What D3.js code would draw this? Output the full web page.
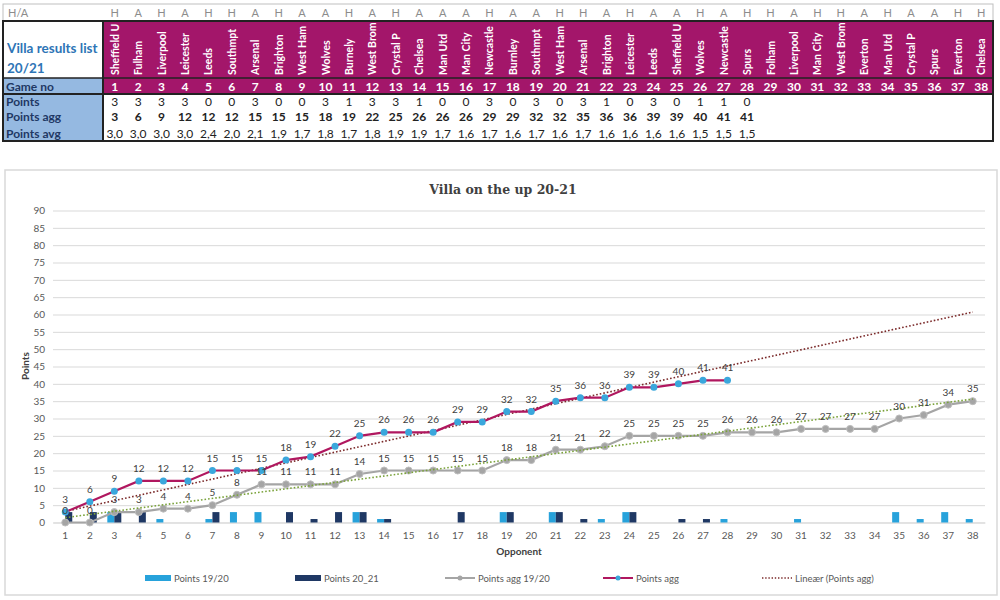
<!DOCTYPE html>
<html>
<head>
<meta charset="utf-8">
<script src="https://cdnjs.cloudflare.com/ajax/libs/d3/7.8.5/d3.min.js"></script>
<style>
  body { margin: 0; background: #fff; }
  svg { font-family: Lato, "Open Sans", sans-serif; }
</style>
</head>
<body>
<svg id="chart" width="1000" height="600"></svg>
<script>
// data
var games = d3.range(1, 39);
var homeAway = ['H','A','H','A','H','H','A','H','A','A','H','A','H','A','A','A','H','A','A','H','H','A','H','A',
                'A','H','A','H','H','A','H','H','A','H','A','A','H','H'];
var opponents = ['Sheffield U','Fulham','Liverpool','Leicester','Leeds','Southmpt','Arsenal','Brighton','West Ham','Wolves',
                 'Burnely','West Brom','Crystal P','Chelsea','Man Utd','Man City','Newcastle','Burnley','Southmpt','West Ham',
                 'Arsenal','Brighton','Leicester','Leeds','Sheffield U','Wolves','Newcastle','Spurs','Folham','Liverpool',
                 'Man City','West Brom','Everton','Man Utd','Crystal P','Spurs','Everton','Chelsea'];
var points2021 = [3,3,3,3,0,0,3,0,0,3,1,3,3,1,0,0,3,0,3,0,3,1,0,3,0,1,1,0];
var pointsAgg = [3,6,9,12,12,12,15,15,15,18,19,22,25,26,26,26,29,29,32,32,35,36,36,39,39,40,41,41];
var pointsAvg = ['3,0','3,0','3,0','3,0','2,4','2,0','2,1','1,9','1,7','1,8','1,7','1,8','1,9','1,9','1,7','1,6',
                 '1,7','1,6','1,7','1,6','1,7','1,6','1,6','1,6','1,6','1,5','1,5','1,5'];
var points1920 = [0,0,3,0,1,0,1,3,3,0,0,0,3,1,0,0,0,0,3,0,3,0,1,3,0,0,0,1,0,0,1,0,0,0,3,1,3,1];
var pointsAgg1920 = [0,0,3,3,4,4,5,8,11,11,11,11,14,15,15,15,15,15,18,18,21,21,22,25,25,25,25,26,26,26,27,27,27,27,30,31,34,35];
// trend line ends (game 1 and game 38)
var trendAgg = [[1, 3.2], [38, 60.7]];
var trendAgg1920 = [[1, 1.4], [38, 35.6]];
var yTicks = d3.range(0, 91, 5);

var svg = d3.select('#chart');

// ---------- table ----------
var magenta = '#a3166a', labelBlue = '#95b9e1', navy = '#1f3864';
var col = d3.scaleBand().domain(games).range([103, 993]);
var rows = {ha: [4, 21], head: [21, 78], game: [78, 94], pts: [94, 109], agg: [109, 124], avg: [124, 141]};

var tbl = svg.append('g');
tbl.append('rect').attr('x', 3).attr('y', 4).attr('width', 990).attr('height', 17)
  .attr('fill', '#fff').attr('stroke', '#bfbfbf');
tbl.append('rect').attr('x', 103).attr('y', rows.head[0]).attr('width', 890).attr('height', rows.game[1] - rows.head[0])
  .attr('fill', magenta);
tbl.append('rect').attr('x', 3).attr('y', rows.game[0]).attr('width', 100).attr('height', rows.game[1] - rows.game[0])
  .attr('fill', labelBlue);
tbl.append('rect').attr('x', 3).attr('y', rows.pts[0]).attr('width', 100).attr('height', rows.avg[1] - rows.pts[0])
  .attr('fill', labelBlue);

// borders
tbl.append('rect').attr('x', 3).attr('y', rows.head[0]).attr('width', 990).attr('height', rows.avg[1] - rows.head[0])
  .attr('fill', 'none').attr('stroke', '#222').attr('stroke-width', 2);
tbl.append('line').attr('x1', 3).attr('x2', 993).attr('y1', rows.game[0]).attr('y2', rows.game[0])
  .attr('stroke', '#222').attr('stroke-width', 1.5);
tbl.append('line').attr('x1', 3).attr('x2', 993).attr('y1', rows.game[1]).attr('y2', rows.game[1])
  .attr('stroke', '#222').attr('stroke-width', 2);
tbl.append('line').attr('x1', 103).attr('x2', 103).attr('y1', rows.head[0]).attr('y2', rows.avg[1])
  .attr('stroke', '#222').attr('stroke-width', 2);

tbl.append('text').attr('x', 8).attr('y', 17).attr('font-size', 11).attr('fill', '#8c8c8c').text('H/A');
tbl.selectAll('.ha').data(homeAway).join('text')
  .attr('x', function(d, i) { return col(games[i]) + col.bandwidth() / 2; })
  .attr('y', 17).attr('text-anchor', 'middle').attr('font-size', 11).attr('fill', '#8c8c8c')
  .text(function(d) { return d; });

tbl.append('text').attr('x', 7).attr('y', 53).attr('font-size', 13.5).attr('font-weight', 'bold')
  .attr('fill', '#2e75b6').text('Villa results list');
tbl.append('text').attr('x', 7).attr('y', 73).attr('font-size', 13.5).attr('font-weight', 'bold')
  .attr('fill', '#2e75b6').text('20/21');

tbl.selectAll('.opp').data(opponents).join('text')
  .attr('transform', function(d, i) {
    return 'translate(' + (col(games[i]) + col.bandwidth() / 2 + 4) + ',75) rotate(-90)';
  })
  .attr('font-size', 10.5).attr('font-weight', 'bold').attr('fill', '#fff')
  .text(function(d) { return d; });

var labels = [['Game no', rows.game], ['Points', rows.pts], ['Points agg', rows.agg], ['Points avg', rows.avg]];
labels.forEach(function(l) {
  tbl.append('text').attr('x', 6).attr('y', l[1][1] - 3.5).attr('font-size', 12).attr('font-weight', 'bold')
    .attr('fill', navy).text(l[0]);
});

tbl.selectAll('.gno').data(games).join('text')
  .attr('x', function(d) { return col(d) + col.bandwidth() / 2; })
  .attr('y', rows.game[1] - 3.5).attr('text-anchor', 'middle').attr('font-size', 12).attr('font-weight', 'bold')
  .attr('fill', '#fff').text(function(d) { return d; });

function tableRow(values, r, bold) {
  tbl.append('g').selectAll('text').data(values).join('text')
    .attr('x', function(d, i) { return col(games[i]) + col.bandwidth() / 2; })
    .attr('y', r[1] - 3).attr('text-anchor', 'middle').attr('font-size', 12)
    .attr('font-weight', bold ? 'bold' : 'normal').attr('fill', '#222')
    .text(function(d) { return d; });
}
tableRow(points2021, rows.pts, false);
tableRow(pointsAgg, rows.agg, true);
tableRow(pointsAvg, rows.avg, false);

// ---------- chart ----------
svg.append('rect').attr('x', 5).attr('y', 170).attr('width', 992).attr('height', 425)
  .attr('fill', '#fff').attr('stroke', '#d9d9d9').attr('stroke-width', 1.5);

svg.append('text').attr('x', 503).attr('y', 194).attr('text-anchor', 'middle')
  .attr('font-family', '"DejaVu Serif", serif').attr('font-weight', 'bold').attr('font-size', 12.5)
  .attr('fill', '#404040').text('Villa on the up 20-21');

var x = d3.scaleBand().domain(games).range([53, 985]);
var y = d3.scaleLinear().domain([0, 90]).range([522.5, 210.5]);
var cx = function(g) { return x(g) + x.bandwidth() / 2; };

var yAxis = svg.append('g').attr('transform', 'translate(53,0)')
  .call(d3.axisLeft(y).tickValues(yTicks).tickSize(-932).tickPadding(8));
yAxis.select('.domain').remove();
yAxis.selectAll('.tick line').attr('stroke', '#d9d9d9');
yAxis.selectAll('.tick text').attr('font-size', 10).attr('fill', '#595959').attr('font-family', 'Lato, sans-serif');

var xAxis = svg.append('g').attr('transform', 'translate(0,522.5)')
  .call(d3.axisBottom(x).tickSize(0).tickPadding(9));
xAxis.select('.domain').attr('stroke', '#d9d9d9');
xAxis.selectAll('.tick text').attr('font-size', 10).attr('fill', '#595959').attr('font-family', 'Lato, sans-serif');

svg.append('text').attr('x', 519).attr('y', 555).attr('text-anchor', 'middle').attr('font-size', 10)
  .attr('font-weight', 'bold').attr('fill', '#404040').text('Opponent');
svg.append('text').attr('transform', 'translate(29,366) rotate(-90)').attr('text-anchor', 'middle')
  .attr('font-size', 10).attr('font-weight', 'bold').attr('fill', '#404040').text('Points');

// bars
var lightBlue = '#27a2db', darkNavy = '#1f3864';
var inner = d3.scaleBand().domain(['a', 'b']).range([0, 14]);
svg.append('g').selectAll('rect').data(points1920).join('rect')
  .attr('x', function(d, i) { return cx(games[i]) - 7 + inner('a'); })
  .attr('width', inner.bandwidth())
  .attr('y', function(d) { return y(d); })
  .attr('height', function(d) { return y(0) - y(d); })
  .attr('fill', lightBlue);
svg.append('g').selectAll('rect').data(points2021).join('rect')
  .attr('x', function(d, i) { return cx(games[i]) - 7 + inner('b'); })
  .attr('width', inner.bandwidth())
  .attr('y', function(d) { return y(d); })
  .attr('height', function(d) { return y(0) - y(d); })
  .attr('fill', darkNavy);

var trendLine = d3.line().x(function(d) { return cx(d[0]); }).y(function(d) { return y(d[1]); });
var line = d3.line().x(function(d, i) { return cx(games[i]); }).y(function(d) { return y(d); });

// grey series
var grey = '#a5a5a5';
svg.append('path').datum(pointsAgg1920).attr('d', line).attr('fill', 'none')
  .attr('stroke', grey).attr('stroke-width', 2.2);
svg.append('g').selectAll('circle').data(pointsAgg1920).join('circle')
  .attr('cx', function(d, i) { return cx(games[i]); }).attr('cy', function(d) { return y(d); })
  .attr('r', 3.5).attr('fill', grey).attr('stroke', '#bdbdbd');
svg.append('path').datum(trendAgg1920).attr('d', trendLine).attr('fill', 'none')
  .attr('stroke', '#7aa23a').attr('stroke-width', 1.6).attr('stroke-dasharray', '1.6,2');

// magenta series
svg.append('path').datum(trendAgg).attr('d', trendLine).attr('fill', 'none')
  .attr('stroke', '#7b2a2a').attr('stroke-width', 1.6).attr('stroke-dasharray', '1.6,2');
svg.append('path').datum(pointsAgg).attr('d', line).attr('fill', 'none')
  .attr('stroke', '#b0175f').attr('stroke-width', 2.2);
svg.append('g').selectAll('circle').data(pointsAgg).join('circle')
  .attr('cx', function(d, i) { return cx(games[i]); }).attr('cy', function(d) { return y(d); })
  .attr('r', 3.5).attr('fill', '#3aa7dc');

// data labels
function dataLabels(vals) {
  svg.append('g').selectAll('text').data(vals).join('text')
    .attr('x', function(d, i) { return cx(games[i]); }).attr('y', function(d) { return y(d) - 9; })
    .attr('text-anchor', 'middle').attr('font-size', 10).attr('fill', '#404040')
    .text(function(d) { return d; });
}
dataLabels(pointsAgg1920);
dataLabels(pointsAgg);

// legend
var lg = svg.append('g').attr('font-size', 9.5).attr('fill', '#595959');
var items = [
  {x: 145, name: 'Points 19/20', type: 'bar', color: lightBlue},
  {x: 295, name: 'Points 20_21', type: 'bar', color: darkNavy},
  {x: 445, name: 'Points agg 19/20', type: 'line', color: grey, marker: grey},
  {x: 603, name: 'Points agg', type: 'line', color: '#b0175f', marker: '#3aa7dc'},
  {x: 762, name: 'Lineær (Points agg)', type: 'dot', color: '#7b2a2a'}
];
items.forEach(function(it) {
  var g = lg.append('g').attr('transform', 'translate(' + it.x + ',578)');
  if (it.type === 'bar') {
    g.append('rect').attr('x', 0).attr('y', -3).attr('width', 26).attr('height', 6).attr('fill', it.color);
  } else if (it.type === 'line') {
    g.append('line').attr('x1', 0).attr('x2', 30).attr('stroke', it.color).attr('stroke-width', 2);
    g.append('circle').attr('cx', 15).attr('r', 2.5).attr('fill', it.marker);
  } else {
    g.append('line').attr('x1', 0).attr('x2', 30).attr('stroke', it.color).attr('stroke-width', 1.4)
      .attr('stroke-dasharray', '1.4,1.8');
  }
  g.append('text').attr('x', it.type === 'bar' ? 29 : 33).attr('y', 3.5).text(it.name);
});
</script>
</body>
</html>
